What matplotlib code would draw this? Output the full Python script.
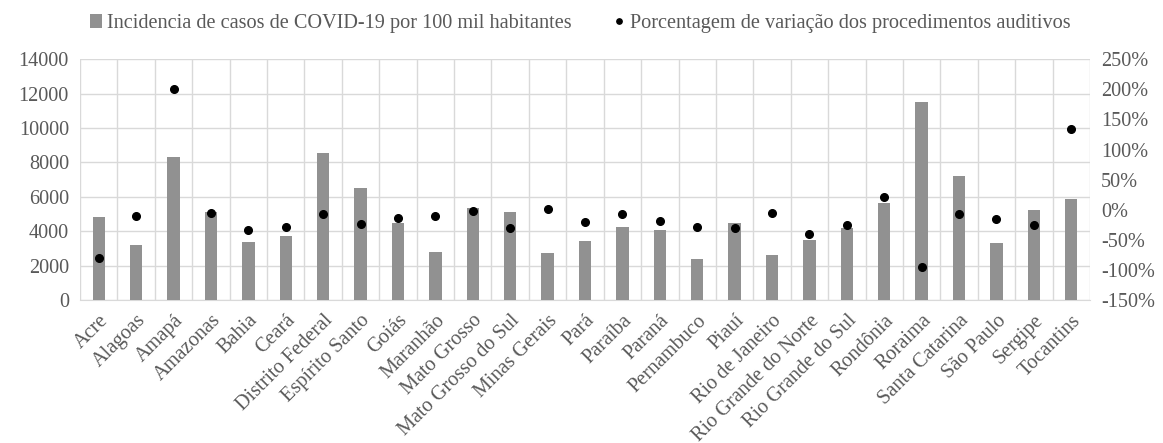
import matplotlib
matplotlib.use("Agg")
import matplotlib.pyplot as plt
from matplotlib.ticker import FixedLocator, MultipleLocator
import numpy as np

plt.rcParams['font.family'] = ['Liberation Serif', 'DejaVu Serif']

estados = ["Acre", "Alagoas", "Amapá", "Amazonas", "Bahia", "Ceará", "Distrito Federal",
           "Espírito Santo", "Goiás", "Maranhão", "Mato Grosso", "Mato Grosso do Sul",
           "Minas Gerais", "Pará", "Paraíba", "Paraná", "Pernambuco", "Piauí",
           "Rio de Janeiro", "Rio Grande do Norte", "Rio Grande do Sul", "Rondônia",
           "Roraima", "Santa Catarina", "São Paulo", "Sergipe", "Tocantins"]
incidencia = [4850, 3200, 8340, 5100, 3400, 3730, 8540, 6500, 4480, 2810, 5340, 5100,
              2720, 3450, 4230, 4080, 2370, 4460, 2620, 3500, 4170, 5660, 11500, 7210,
              3340, 5240, 5880]
variacao = [-80, -10, 200, -6, -33, -29, -7, -24, -14, -10, -2, -31, 1, -21, -7, -18,
            -29, -31, -6, -40, -25, 22, -95, -7, -15, -26, 134]

label_bar = "Incidencia de casos de COVID-19 por 100 mil habitantes"
label_dot = "Porcentagem de variação dos procedimentos auditivos"

txt = "#595959"
grid_c = "#d9d9d9"
fs = 14.6

fig = plt.figure(figsize=(11.63, 4.43), dpi=100)
ax = fig.add_axes([0.0688, 0.3228, 0.8684, 0.5433])
x = np.arange(len(estados))
b = ax.bar(x, incidencia, width=0.33, color="#919191", label=label_bar, zorder=3)
ax.set_xlim(-0.5, len(estados) - 0.5)
ax.set_ylim(0, 14000)
ax.yaxis.set_major_locator(MultipleLocator(2000))
ax.set_xticks(x)
ax.set_xticklabels(estados, rotation=45, ha="right", rotation_mode="anchor",
                   fontsize=fs, color=txt)
ax.xaxis.set_minor_locator(FixedLocator(np.arange(-0.5, len(estados), 1.0)))
ax.grid(True, which="minor", axis="x", color=grid_c, lw=1, zorder=0)
ax.grid(True, which="major", axis="y", color=grid_c, lw=1, zorder=0)
ax.tick_params(axis="x", which="both", length=0, pad=8)
ax.tick_params(axis="y", length=0, labelsize=fs, labelcolor=txt, pad=8)
for s in ["top", "right", "left"]:
    ax.spines[s].set_visible(False)
ax.spines["bottom"].set_color(grid_c)

ax2 = ax.twinx()
d, = ax2.plot(x, variacao, "o", color="black", markersize=5.5, label=label_dot, zorder=4)
ax2.set_ylim(-150, 250)
ax2.set_yticks(np.arange(-150, 251, 50))
ax2.set_yticklabels([f"{v}%" for v in range(-150, 251, 50)])
ax2.tick_params(axis="y", length=0, labelsize=fs, labelcolor=txt, pad=8)
for s in ax2.spines.values():
    s.set_visible(False)

leg = fig.legend([b, d], [label_bar, label_dot], loc="upper center",
                 bbox_to_anchor=(0.499, 1.01), ncol=2, frameon=False, fontsize=fs,
                 handlelength=0.6, handletextpad=0.25, columnspacing=2.0,
                 markerscale=0.7)
for t in leg.get_texts():
    t.set_color(txt)

fig.savefig("out.png", dpi=100)
